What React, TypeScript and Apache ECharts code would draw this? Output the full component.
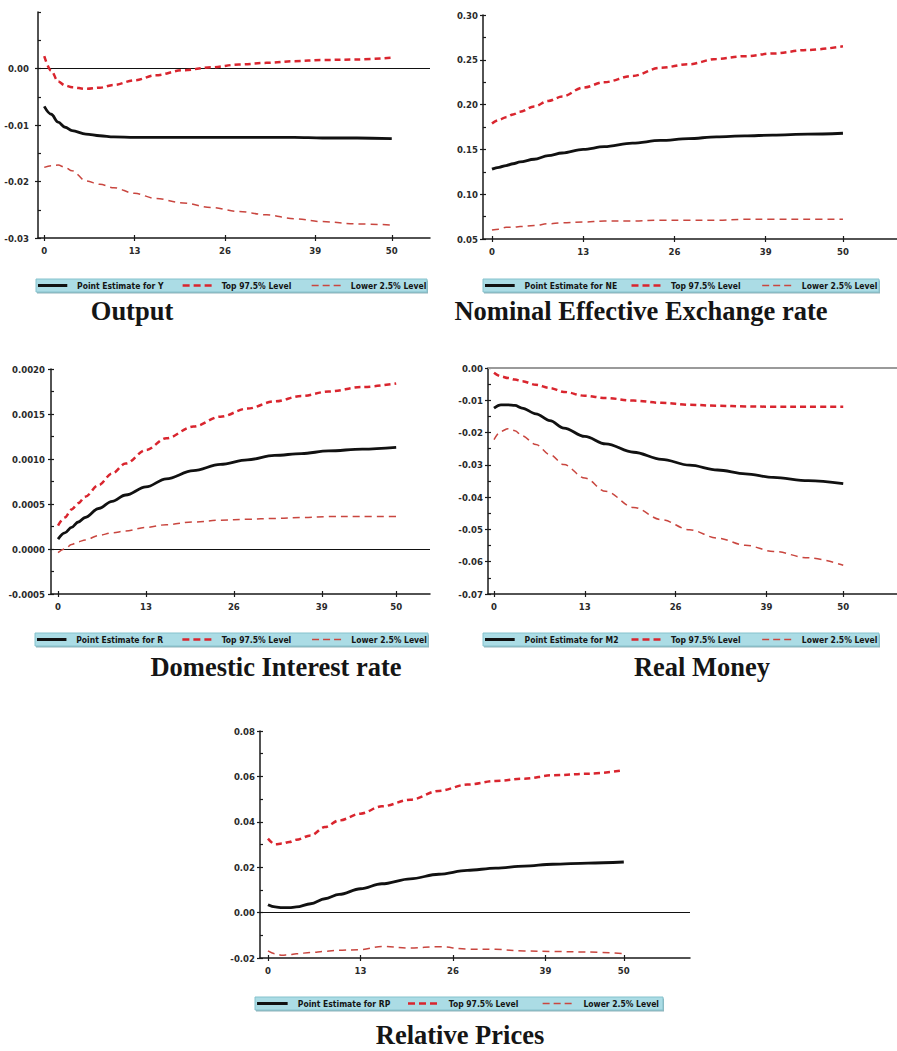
import React, { useEffect, useRef } from "react";
import * as echarts from "echarts";

// Forecast horizons at which the impulse responses are sampled
const periods = [0, 1, 2, 3, 4, 6, 8, 10, 13, 16, 20, 24, 28, 32, 36, 40, 45, 50];
const xTicks = [0, 13, 26, 39, 50];

// Output (Y)
const yPoint = [-0.0067, -0.0081, -0.0095, -0.0104, -0.011, -0.0116, -0.0119, -0.0121, -0.0122, -0.0122, -0.0122, -0.0122, -0.0122, -0.0122, -0.0122, -0.0123, -0.0123, -0.0124];
const yTop = [0.0022, -0.0004, -0.0023, -0.003, -0.0033, -0.0036, -0.0034, -0.0029, -0.0021, -0.0012, -0.0003, 0.0002, 0.0007, 0.001, 0.0013, 0.0015, 0.0016, 0.0019];
const yLow = [-0.0175, -0.0172, -0.0171, -0.0175, -0.0181, -0.0199, -0.0205, -0.0211, -0.0221, -0.023, -0.0238, -0.0246, -0.0253, -0.0259, -0.0266, -0.0271, -0.0275, -0.0277];
const yTicks = [-0.03, -0.025, -0.02, -0.015, -0.01, -0.005, 0, 0.005, 0.01];
const yLabels = [-0.03, -0.02, -0.01, 0];

// Nominal effective exchange rate (NE)
const nePoint = [0.128, 0.13, 0.132, 0.134, 0.136, 0.139, 0.143, 0.146, 0.15, 0.153, 0.157, 0.16, 0.162, 0.164, 0.165, 0.166, 0.167, 0.168];
const neTop = [0.179, 0.183, 0.186, 0.189, 0.192, 0.198, 0.204, 0.209, 0.219, 0.225, 0.232, 0.241, 0.245, 0.251, 0.254, 0.257, 0.261, 0.265];
const neLow = [0.06, 0.061, 0.063, 0.063, 0.064, 0.065, 0.067, 0.068, 0.069, 0.07, 0.07, 0.071, 0.071, 0.071, 0.072, 0.072, 0.072, 0.072];
const neTicks = [0.05, 0.075, 0.1, 0.125, 0.15, 0.175, 0.2, 0.225, 0.25, 0.275, 0.3];
const neLabels = [0.05, 0.1, 0.15, 0.2, 0.25, 0.3];

// Domestic interest rate (R)
const rPoint = [0.00011, 0.00018, 0.00024, 0.0003, 0.00035, 0.00045, 0.00053, 0.0006, 0.00069, 0.00078, 0.00087, 0.00094, 0.00099, 0.00104, 0.00106, 0.00109, 0.00111, 0.00113];
const rTop = [0.00026, 0.00035, 0.00044, 0.00051, 0.00058, 0.00071, 0.00084, 0.00095, 0.0011, 0.00123, 0.00136, 0.00147, 0.00156, 0.00164, 0.0017, 0.00175, 0.0018, 0.00184];
const rLow = [-0.00004, 0.0, 0.00005, 0.00008, 0.0001, 0.00015, 0.00018, 0.0002, 0.00024, 0.00027, 0.0003, 0.00032, 0.00033, 0.00034, 0.00035, 0.00036, 0.00036, 0.00036];
const rTicks = [-0.0005, -0.00025, 0, 0.00025, 0.0005, 0.00075, 0.001, 0.00125, 0.0015, 0.00175, 0.002];
const rLabels = [-0.0005, 0, 0.0005, 0.001, 0.0015, 0.002];

// Real money (M2)
const mPoint = [-0.0124, -0.0114, -0.0114, -0.0116, -0.0124, -0.0142, -0.0163, -0.0186, -0.0212, -0.0235, -0.0261, -0.0283, -0.0301, -0.0316, -0.0328, -0.0339, -0.0349, -0.0358];
const mTop = [-0.0015, -0.0026, -0.0031, -0.0036, -0.0041, -0.0052, -0.0062, -0.0074, -0.0086, -0.0093, -0.0101, -0.0108, -0.0114, -0.0117, -0.0119, -0.012, -0.012, -0.012];
const mLow = [-0.0222, -0.0196, -0.0188, -0.0194, -0.021, -0.0237, -0.0268, -0.0299, -0.0341, -0.0382, -0.0432, -0.047, -0.0501, -0.0527, -0.0549, -0.0568, -0.0588, -0.0611];
const mTicks = [-0.07, -0.065, -0.06, -0.055, -0.05, -0.045, -0.04, -0.035, -0.03, -0.025, -0.02, -0.015, -0.01, -0.005, 0];
const mLabels = [-0.07, -0.06, -0.05, -0.04, -0.03, -0.02, -0.01, 0];

// Relative prices (RP)
const rpPoint = [0.0035, 0.0025, 0.0022, 0.0022, 0.0025, 0.0039, 0.0061, 0.008, 0.0105, 0.0127, 0.0149, 0.0169, 0.0186, 0.0196, 0.0205, 0.0213, 0.0218, 0.0223];
const rpTop = [0.0326, 0.0301, 0.0304, 0.0311, 0.0321, 0.034, 0.0377, 0.0406, 0.0436, 0.0468, 0.0497, 0.0536, 0.0564, 0.058, 0.059, 0.0605, 0.0612, 0.0627];
const rpLow = [-0.0169, -0.0181, -0.0188, -0.0185, -0.0181, -0.0176, -0.0171, -0.0166, -0.0163, -0.0149, -0.0156, -0.015, -0.0161, -0.0162, -0.0169, -0.0171, -0.0174, -0.0181];
const rpTicks = [-0.02, -0.01, 0, 0.01, 0.02, 0.03, 0.04, 0.05, 0.06, 0.07, 0.08];
const rpLabels = [-0.02, 0, 0.02, 0.04, 0.06, 0.08];

const panelTitles = ["Output", "Nominal Effective Exchange rate", "Domestic Interest rate", "Real Money", "Relative Prices"];
const varNames = ["Y", "NE", "R", "M2", "RP"];
const legendTop = "Top 97.5% Level";
const legendLow = "Lower 2.5% Level";

const TICK_FONT = '"DejaVu Sans Condensed", "Liberation Sans Narrow", "DejaVu Sans", sans-serif';
const AXIS_COLOR = "#1a1a1a";
const TOP_COLOR = "#d9252e";
const LOW_COLOR = "#c9463f";

type Panel = {
  point: number[];
  top: number[];
  low: number[];
  ticks: number[];
  labels: number[];
  decimals: number;
  grid: { left: number; top: number; width: number; height: number };
  xMin: number;
  xMax: number;
  zeroLine: null | { color: string; width: number };
  labelMargin: number;
  legend: { x: number; y: number; w: number };
  title: { x: number; y: number };
};

const panels: Panel[] = [
  {
    point: yPoint, top: yTop, low: yLow, ticks: yTicks, labels: yLabels, decimals: 2,
    grid: { left: 38, top: 12, width: 392, height: 226 }, xMin: -0.9, xMax: 55.5,
    zeroLine: { color: "#111", width: 1.2 }, labelMargin: 9,
    legend: { x: 36, y: 279, w: 391 }, title: { x: 132, y: 311 },
  },
  {
    point: nePoint, top: neTop, low: neLow, ticks: neTicks, labels: neLabels, decimals: 2,
    grid: { left: 483, top: 15, width: 414, height: 224 }, xMin: -1.28, xMax: 57.7,
    zeroLine: null, labelMargin: 5,
    legend: { x: 483, y: 279, w: 396 }, title: { x: 641, y: 311 },
  },
  {
    point: rPoint, top: rTop, low: rLow, ticks: rTicks, labels: rLabels, decimals: 4,
    grid: { left: 51, top: 369, width: 379, height: 225 }, xMin: -1.04, xMax: 55.0,
    zeroLine: { color: "#111", width: 1.2 }, labelMargin: 6,
    legend: { x: 35, y: 633, w: 393 }, title: { x: 276, y: 667 },
  },
  {
    point: mPoint, top: mTop, low: mLow, ticks: mTicks, labels: mLabels, decimals: 2,
    grid: { left: 488, top: 368, width: 409, height: 226 }, xMin: -0.86, xMax: 57.7,
    zeroLine: { color: "#9a9a9a", width: 2 }, labelMargin: 5,
    legend: { x: 483, y: 633, w: 396 }, title: { x: 702, y: 667 },
  },
  {
    point: rpPoint, top: rpTop, low: rpLow, ticks: rpTicks, labels: rpLabels, decimals: 2,
    grid: { left: 260, top: 731, width: 430, height: 227 }, xMin: -1.12, xMax: 59.3,
    zeroLine: { color: "#111", width: 1.2 }, labelMargin: 5,
    legend: { x: 255, y: 997, w: 408 }, title: { x: 460, y: 1035 },
  },
];

const pairs = (vals: number[]) => periods.map((p, i) => [p, vals[i]]);

function buildOption() {
  const grid: any[] = [];
  const xAxis: any[] = [];
  const yAxis: any[] = [];
  const series: any[] = [];
  const graphic: any[] = [];

  panels.forEach((pn, i) => {
    grid.push({ ...pn.grid, containLabel: false });
    const labelFont = { color: "#2a2a2a", fontWeight: "bold", fontSize: 9.5, fontFamily: TICK_FONT };

    // Main x axis: line, outward ticks, labels
    xAxis.push({
      type: "value", gridIndex: i, min: pn.xMin, max: pn.xMax, position: "bottom",
      axisLine: { show: true, onZero: false, lineStyle: { color: AXIS_COLOR, width: 1.5 } },
      axisTick: { show: true, length: 3, customValues: xTicks, lineStyle: { color: AXIS_COLOR, width: 1.2 } },
      axisLabel: { show: true, customValues: xTicks, margin: 7, ...labelFont },
      splitLine: { show: false },
    });
    // Overlay x axis: inward ticks only
    xAxis.push({
      type: "value", gridIndex: i, min: pn.xMin, max: pn.xMax, position: "bottom",
      axisLine: { show: false, onZero: false },
      axisTick: { show: true, inside: true, length: 3, customValues: xTicks, lineStyle: { color: AXIS_COLOR, width: 1.2 } },
      axisLabel: { show: false },
      splitLine: { show: false },
    });

    const lo = pn.ticks[0];
    const hi = pn.ticks[pn.ticks.length - 1];
    // Main y axis: line, outward ticks at labelled values, labels
    yAxis.push({
      type: "value", gridIndex: i, min: lo, max: hi, position: "left",
      axisLine: { show: true, onZero: false, lineStyle: { color: AXIS_COLOR, width: 1.5 } },
      axisTick: { show: true, length: 3, customValues: pn.labels, lineStyle: { color: AXIS_COLOR, width: 1.2 } },
      axisLabel: {
        show: true, customValues: pn.labels, margin: pn.labelMargin, ...labelFont,
        formatter: (v: number) => v.toFixed(pn.decimals),
      },
      splitLine: { show: false },
    });
    // Overlay y axis: inward ticks at every tick value
    yAxis.push({
      type: "value", gridIndex: i, min: lo, max: hi, position: "left",
      axisLine: { show: false, onZero: false },
      axisTick: { show: true, inside: true, length: 3, customValues: pn.ticks, lineStyle: { color: AXIS_COLOR, width: 1.2 } },
      axisLabel: { show: false },
      splitLine: { show: false },
    });

    const base = { type: "line", xAxisIndex: 2 * i, yAxisIndex: 2 * i, symbol: "none", smooth: 0.35, smoothMonotone: "x" };
    series.push({
      ...base, name: "Point Estimate for " + varNames[i], data: pairs(pn.point), z: 3,
      lineStyle: { color: "#111", width: 2.8, type: "solid" },
      markLine: pn.zeroLine
        ? {
            silent: true, symbol: ["none", "none"], label: { show: false }, z: 1,
            lineStyle: { color: pn.zeroLine.color, width: pn.zeroLine.width, type: "solid" },
            data: [{ yAxis: 0 }],
          }
        : undefined,
    });
    series.push({
      ...base, name: legendTop, data: pairs(pn.top), z: 4,
      lineStyle: { color: TOP_COLOR, width: 2.5, type: [6, 4] },
    });
    series.push({
      ...base, name: legendLow, data: pairs(pn.low), z: 4,
      lineStyle: { color: LOW_COLOR, width: 1.5, type: [7, 5] },
    });

    // Legend strip beneath each panel
    const { x, y, w } = pn.legend;
    const h = 13;
    const cy = y + h / 2;
    const tf = { fontSize: 8.5, fontWeight: "bold", fontFamily: TICK_FONT, fill: "#141414", verticalAlign: "middle" };
    graphic.push(
      { type: "rect", shape: { x: x + 1, y: y + 1.5, width: w, height: h }, style: { fill: "#8fb4bb" }, silent: true },
      { type: "rect", shape: { x, y, width: w, height: h }, style: { fill: "#abdce5", stroke: "#86c2cd", lineWidth: 1 }, silent: true },
      { type: "line", shape: { x1: x + 0.005 * w, y1: cy, x2: x + 0.08 * w, y2: cy }, style: { stroke: "#111", lineWidth: 3 }, silent: true },
      { type: "text", x: x + 0.105 * w, y: cy, style: { text: "Point Estimate for " + varNames[i], ...tf }, silent: true },
      { type: "line", shape: { x1: x + 0.375 * w, y1: cy, x2: x + 0.45 * w, y2: cy }, style: { stroke: TOP_COLOR, lineWidth: 2.5, lineDash: [7, 4] }, silent: true },
      { type: "text", x: x + 0.475 * w, y: cy, style: { text: legendTop, ...tf }, silent: true },
      { type: "line", shape: { x1: x + 0.705 * w, y1: cy, x2: x + 0.78 * w, y2: cy }, style: { stroke: LOW_COLOR, lineWidth: 1.5, lineDash: [7, 4] }, silent: true },
      { type: "text", x: x + 0.805 * w, y: cy, style: { text: legendLow, ...tf }, silent: true },
    );

    // Panel caption
    graphic.push({
      type: "text", x: pn.title.x, y: pn.title.y,
      style: {
        text: panelTitles[i], fill: "#151515", fontSize: 26.5, fontWeight: "bold",
        fontFamily: '"Liberation Serif", "Times New Roman", serif', align: "center", verticalAlign: "middle",
      },
      silent: true,
    });
  });

  return { animation: false, backgroundColor: "#ffffff", grid, xAxis, yAxis, series, graphic };
}

export default function App() {
  const ref = useRef<HTMLDivElement>(null);
  useEffect(() => {
    if (!ref.current) return;
    const chart = echarts.init(ref.current, undefined, { renderer: "svg" });
    chart.setOption(buildOption() as any);
    return () => chart.dispose();
  }, []);
  return (
    <div
      ref={ref}
      style={{ position: "absolute", left: 0, top: 0, width: 897, height: 1051, background: "#fff" }}
    />
  );
}
